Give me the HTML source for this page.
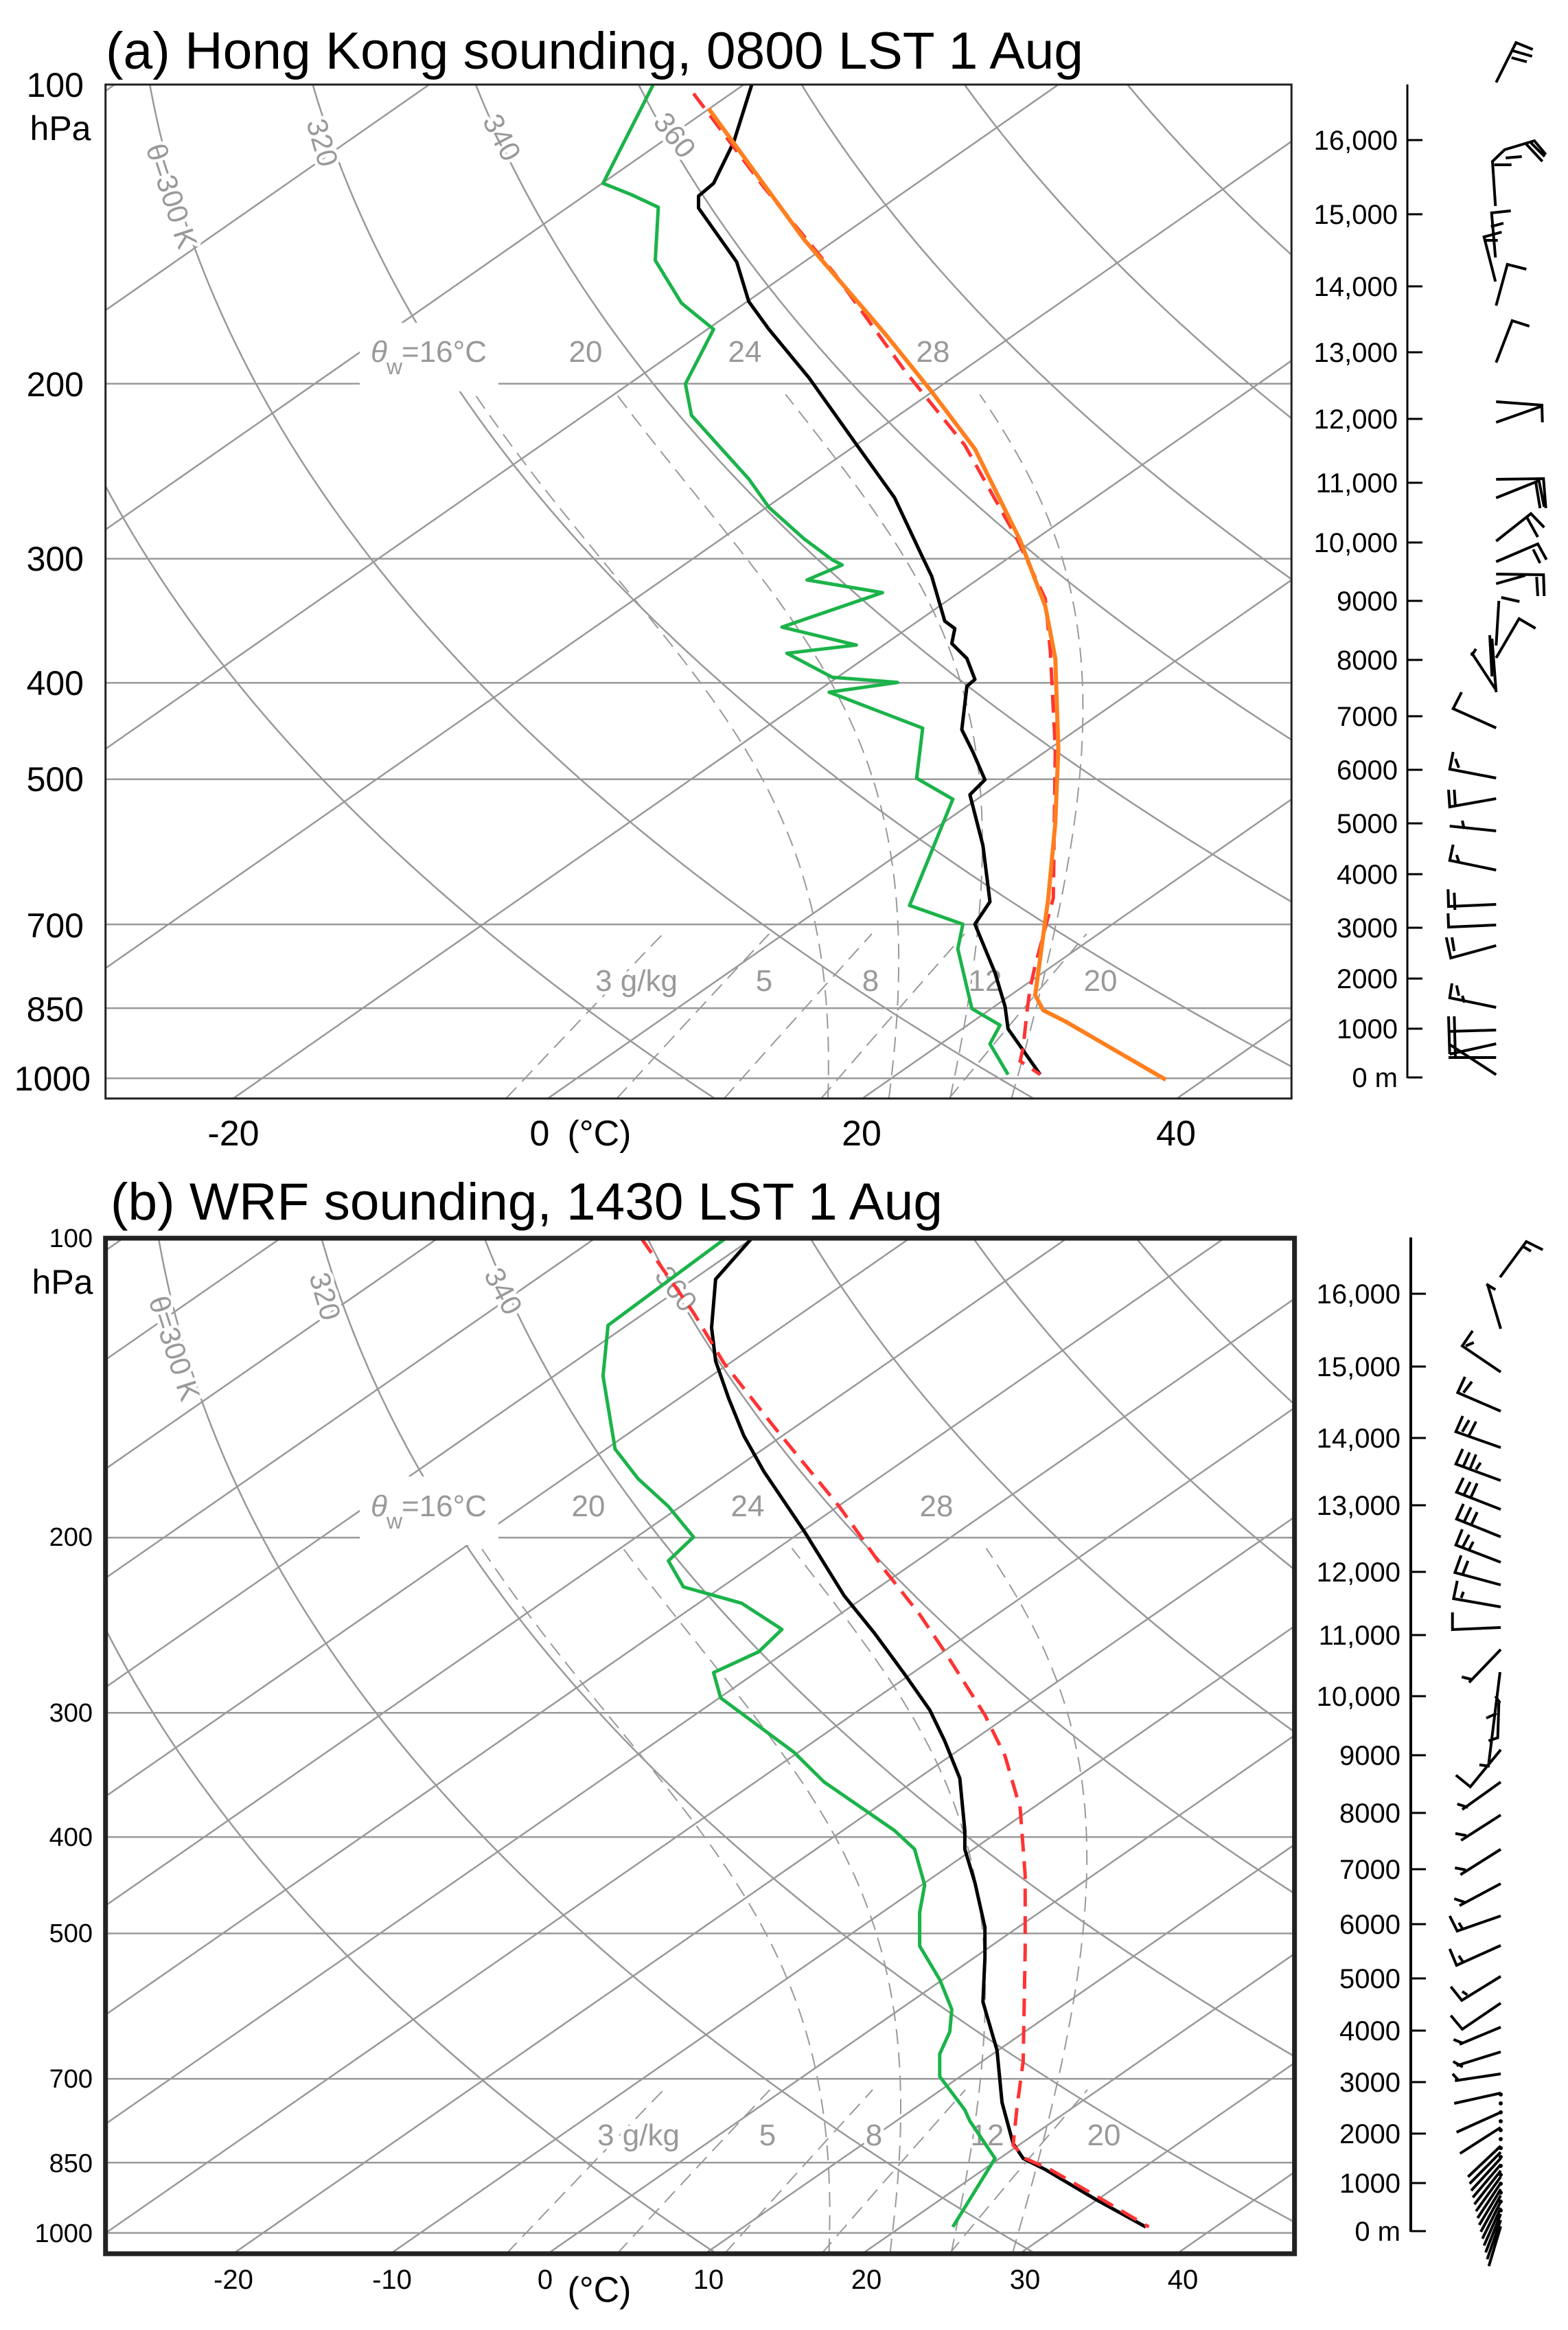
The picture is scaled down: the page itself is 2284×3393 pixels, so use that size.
<!DOCTYPE html>
<html><head><meta charset="utf-8">
<style>
html,body{margin:0;padding:0;background:#fff;}
svg{display:block;}
text{font-family:"Liberation Sans",Arial,sans-serif;}
.g{fill:#999;paint-order:stroke;stroke:#fff;stroke-width:10px;stroke-linejoin:round;}
</style></head>
<body>
<svg id="s" xmlns="http://www.w3.org/2000/svg" width="2284" height="3393" viewBox="0 0 2284 3393">
<defs>
<clipPath id="ca"><rect x="154" y="123" width="1727" height="1477"/></clipPath>
<clipPath id="cb"><rect x="154" y="1803" width="1732" height="1479"/></clipPath>
</defs>
<g id="grid"></g>
<g id="labs">
<!-- Panel A gray labels -->
<text class="g" font-size="42" transform="translate(212,215) rotate(72)">θ=300 K</text>
<text class="g" font-size="42" transform="translate(446,178) rotate(74)">320</text>
<text class="g" font-size="42" transform="translate(702,176) rotate(62)">340</text>
<text class="g" font-size="42" transform="translate(950,178) rotate(52)">360</text>
<rect x="524" y="470" width="202" height="100" fill="#fff"/>
<text class="g" font-size="44" x="540" y="527" font-style="italic">θ</text><text class="g" font-size="32" x="563" y="545">w</text><text class="g" font-size="44" x="585" y="527">=16°C</text>
<text class="g" font-size="44" x="853" y="527" text-anchor="middle">20</text>
<text class="g" font-size="44" x="1085" y="527" text-anchor="middle">24</text>
<text class="g" font-size="44" x="1359" y="527" text-anchor="middle">28</text>
<text class="g" font-size="44" x="927" y="1443" text-anchor="middle">3 g/kg</text>
<text class="g" font-size="44" x="1113" y="1443" text-anchor="middle">5</text>
<text class="g" font-size="44" x="1268" y="1443" text-anchor="middle">8</text>
<text class="g" font-size="44" x="1435" y="1443" text-anchor="middle">12</text>
<text class="g" font-size="44" x="1603" y="1443" text-anchor="middle">20</text>
<!-- Panel B gray labels -->
<text class="g" font-size="42" transform="translate(216,1893) rotate(72)">θ=300 K</text>
<text class="g" font-size="42" transform="translate(450,1858) rotate(74)">320</text>
<text class="g" font-size="42" transform="translate(704,1856) rotate(62)">340</text>
<text class="g" font-size="42" transform="translate(952,1858) rotate(52)">360</text>
<rect x="524" y="2150" width="202" height="100" fill="#fff"/>
<text class="g" font-size="44" x="540" y="2208" font-style="italic">θ</text><text class="g" font-size="32" x="563" y="2226">w</text><text class="g" font-size="44" x="585" y="2208">=16°C</text>
<text class="g" font-size="44" x="857" y="2208" text-anchor="middle">20</text>
<text class="g" font-size="44" x="1089" y="2208" text-anchor="middle">24</text>
<text class="g" font-size="44" x="1364" y="2208" text-anchor="middle">28</text>
<text class="g" font-size="44" x="930" y="3124" text-anchor="middle">3 g/kg</text>
<text class="g" font-size="44" x="1118" y="3124" text-anchor="middle">5</text>
<text class="g" font-size="44" x="1273" y="3124" text-anchor="middle">8</text>
<text class="g" font-size="44" x="1438" y="3124" text-anchor="middle">12</text>
<text class="g" font-size="44" x="1608" y="3124" text-anchor="middle">20</text>
</g>
<g id="data"></g>
<g id="frames"></g>
<g font-size="50" fill="#000">
<text x="154" y="100" font-size="76" textLength="1424" lengthAdjust="spacingAndGlyphs">(a) Hong Kong sounding, 0800 LST 1 Aug</text>
<text x="161" y="1776" font-size="76" textLength="1212" lengthAdjust="spacingAndGlyphs">(b) WRF sounding, 1430 LST 1 Aug</text>
<g text-anchor="end">
<text x="122" y="141">100</text>
<text x="122" y="577">200</text>
<text x="122" y="831">300</text>
<text x="122" y="1012">400</text>
<text x="122" y="1152">500</text>
<text x="122" y="1365">700</text>
<text x="122" y="1487">850</text>
<text x="132" y="1588">1000</text>
</g>
<text x="88" y="204" text-anchor="middle">hPa</text>
<g text-anchor="middle" font-size="52">
<text x="340" y="1668">-20</text>
<text x="786" y="1668">0</text>
<text x="873" y="1668">(°C)</text>
<text x="1255" y="1668">20</text>
<text x="1713" y="1668">40</text>
</g>
<g text-anchor="end" font-size="38">
<text x="135" y="1816">100</text>
<text x="135" y="2251">200</text>
<text x="135" y="2507">300</text>
<text x="135" y="2688">400</text>
<text x="135" y="2828">500</text>
<text x="135" y="3040">700</text>
<text x="135" y="3163">850</text>
<text x="135" y="3265">1000</text>
</g>
<text x="91" y="1884" text-anchor="middle">hPa</text>
<g text-anchor="middle" font-size="40">
<text x="340" y="3333">-20</text>
<text x="571" y="3333">-10</text>
<text x="794" y="3333">0</text>
<text x="1032" y="3333">10</text>
<text x="1262" y="3333">20</text>
<text x="1493" y="3333">30</text>
<text x="1723" y="3333">40</text>
</g>
<text x="873" y="3352" text-anchor="middle" font-size="52">(°C)</text>
<g text-anchor="end" font-size="40" id="hA">
<text x="2036" y="218">16,000</text><text x="2036" y="326">15,000</text><text x="2036" y="431">14,000</text>
<text x="2036" y="527">13,000</text><text x="2036" y="624">12,000</text><text x="2036" y="717">11,000</text>
<text x="2036" y="804">10,000</text><text x="2036" y="889">9000</text><text x="2036" y="975">8000</text>
<text x="2036" y="1057">7000</text><text x="2036" y="1135">6000</text><text x="2036" y="1213">5000</text>
<text x="2036" y="1287">4000</text><text x="2036" y="1365">3000</text><text x="2036" y="1439">2000</text>
<text x="2036" y="1512">1000</text><text x="2036" y="1583">0 m</text>
</g>
<g text-anchor="end" font-size="40">
<text x="2040" y="1898">16,000</text><text x="2040" y="2004">15,000</text><text x="2040" y="2108">14,000</text>
<text x="2040" y="2206">13,000</text><text x="2040" y="2303">12,000</text><text x="2040" y="2395">11,000</text>
<text x="2040" y="2484">10,000</text><text x="2040" y="2570">9000</text><text x="2040" y="2654">8000</text>
<text x="2040" y="2736">7000</text><text x="2040" y="2816">6000</text><text x="2040" y="2895">5000</text>
<text x="2040" y="2971">4000</text><text x="2040" y="3046">3000</text><text x="2040" y="3121">2000</text>
<text x="2040" y="3193">1000</text><text x="2040" y="3263">0 m</text>
</g>
</g>
<g id="barbs" stroke="#000" stroke-width="4" fill="none" stroke-linecap="butt"></g>
</svg>
<script>
(function(){
var NS="http://www.w3.org/2000/svg";
function el(parent,tag,a){var e=document.createElementNS(NS,tag);for(var k in a)e.setAttribute(k,a[k]);parent.appendChild(e);return e;}
var grid=document.getElementById('grid'),data=document.getElementById('data'),frames=document.getElementById('frames'),barbs=document.getElementById('barbs');
var P=[
 {sx:1.464,sy:1.0897,oy:0,yb:1441,K:576.7,ybot:1468,ytop:113,xl:105,xr:1285,step:20,bw:3,clip:'ca'},
 {sx:1.464,sy:1.085,oy:1700,yb:1430,K:579.8,ybot:1458,ytop:95,xl:105,xr:1288,step:10,bw:7,clip:'cb'}
];
P.forEach(function(c,idx){
 function X(x){return x*c.sx;} function Y(y){return y*c.sy+c.oy;}
 function yP(p){return c.yb-c.K*Math.log(1000/p);}
 function pY(y){return 1000*Math.exp(-(c.yb-y)/c.K);}
 function xT(T,y){return 545+15.65*T+(c.ybot-y)*1.068;}
 var g=el(grid,'g',{'clip-path':'url(#'+c.clip+')',fill:'none',stroke:'#999','stroke-width':2.5});
 function poly(parent,pts,attr){var d=pts.map(function(p,i){return (i?'L':'M')+X(p[0]).toFixed(1)+','+Y(p[1]).toFixed(1);}).join('');var a={d:d};for(var k in attr)a[k]=attr[k];return el(parent,'path',a);}
 // pressure lines
 [200,300,400,500,700,850,1000].forEach(function(p){poly(g,[[c.xl,yP(p)],[c.xr,yP(p)]],{});});
 // isotherms
 for(var T=-160;T<=60;T+=c.step){poly(g,[[xT(T,c.ybot),c.ybot],[xT(T,c.ytop),c.ytop]],{});}
 // dry adiabats
 for(var th=280;th<=500;th+=20){var pts=[];for(var y=c.ybot;y>=c.ytop-1;y-=6){var p=pY(y);var T=th*Math.pow(p/1000,0.2857)-273.15;pts.push([xT(T,y),y]);}poly(g,pts,{});}
 // moist adiabats
 var Rd=287,cp=1004,Lv=2.5e6,eps=0.622;
 function es(Tc){return 6.112*Math.exp(17.67*Tc/(Tc+243.5));}
 function dTdp(T,p){var e=es(T-273.15);var rs=eps*e/(p-e);return (Rd*T+Lv*rs)/(p*(cp+Lv*Lv*rs*eps/(Rd*T*T)));}
 [16,20,24,28].forEach(function(tw){
  var pts=[];var T=tw+273.15,p=1000;var pb=pY(c.ybot);
  // down to bottom
  var Tb=T,pp=1000;while(pp<pb){Tb+=dTdp(Tb,pp)*1;pp+=1;}
  var arr=[[xT(Tb-273.15,c.ybot),c.ybot]];
  T=tw+273.15;p=1000;arr.push([xT(T-273.15,yP(1000)),yP(1000)]);
  while(p>205){T-=dTdp(T,p)*1;p-=1;if(p%5==0)arr.push([xT(T-273.15,yP(p)),yP(p)]);}
  poly(g,arr,{'stroke-dasharray':'22 12','stroke-width':2});
 });
 // mixing ratio
 [3,5,8,12,20].forEach(function(w){
  var arr=[];for(var y=c.ybot;y>=yP(712);y-=5){var p=pY(y);var e=w*p/(622+w);var l=Math.log(e/6.112);var Td=243.5*l/(17.67-l);arr.push([xT(Td,y),y]);}
  poly(g,arr,{'stroke-dasharray':'22 12','stroke-width':2});
 });
 // data
 var D=data;
 if(idx==0){
  poly(D,[[650,113],[600,245],[628,260],[655,277],[652,348],[678,405],[710,440],[682,513],[688,555],[718,600],[745,640],[765,678],[800,720],[828,748],[838,755],[803,775],[878,792],[778,838],[852,862],[783,873],[828,905],[893,912],[825,925],[918,973],[912,1040],[948,1068],[905,1210],[958,1235],[953,1268],[967,1348],[995,1370],[985,1395],[1003,1436]],{fill:'none',stroke:'#1bb34a','stroke-width':5,'stroke-linejoin':'round'});
  poly(D,[[748,113],[730,190],[710,245],[695,262],[695,278],[733,350],[745,403],[765,440],[805,505],[850,590],[890,665],[918,745],[927,770],[940,830],[950,840],[947,860],[962,880],[970,908],[962,917],[957,975],[968,1005],[980,1042],[965,1062],[978,1130],[985,1205],[970,1235],[990,1300],[1000,1345],[1003,1375],[1035,1436]],{fill:'none',stroke:'#000','stroke-width':5,'stroke-linejoin':'round'});
  poly(D,[[690,125],[760,250],[830,365],[900,495],[960,595],[1010,715],[1040,800],[1045,870],[1050,1000],[1048,1200],[1030,1290],[1025,1320],[1022,1350],[1018,1400],[1015,1418],[1035,1436]],{fill:'none',stroke:'#ff3333','stroke-width':5,'stroke-dasharray':'26 14'});
  poly(D,[[705,145],[800,320],[880,445],[925,520],[970,600],[1015,722],[1040,810],[1050,880],[1053,1000],[1050,1100],[1043,1200],[1035,1280],[1030,1330],[1038,1350],[1060,1365],[1160,1443]],{fill:'none',stroke:'#ff7f1e','stroke-width':6,'stroke-linejoin':'round'});
 } else {
  poly(D,[[722,95],[605,212],[600,280],[612,378],[635,418],[665,455],[690,496],[665,528],[680,563],[738,585],[778,620],[755,650],[710,678],[717,712],[745,740],[790,785],[820,825],[860,862],[890,890],[910,915],[920,963],[915,1000],[915,1045],[935,1090],[947,1130],[945,1160],[935,1190],[935,1220],[960,1265],[965,1280],[990,1330],[948,1422]],{fill:'none',stroke:'#1bb34a','stroke-width':5,'stroke-linejoin':'round'});
  poly(D,[[748,95],[712,150],[708,215],[712,260],[725,310],[740,360],[760,408],[800,488],[840,575],[870,625],[900,680],[925,728],[940,770],[955,820],[960,890],[960,915],[970,960],[980,1020],[980,1060],[978,1120],[992,1185],[997,1255],[1008,1310],[1018,1330],[1040,1345],[1090,1385],[1140,1422]],{fill:'none',stroke:'#000','stroke-width':5,'stroke-linejoin':'round'});
  poly(D,[[638,95],[690,195],[720,262],[770,348],[835,455],[880,540],[915,600],[940,650],[980,735],[1000,790],[1015,860],[1020,950],[1020,1050],[1018,1200],[1012,1260],[1008,1312],[1020,1330],[1045,1345],[1090,1380],[1143,1422]],{fill:'none',stroke:'#ff3333','stroke-width':5,'stroke-dasharray':'26 14'});
 }
 // frame
 el(frames,'rect',{x:X(c.xl),y:Y(c.ytop),width:X(c.xr)-X(c.xl),height:Y(c.ybot)-Y(c.ytop),fill:'none',stroke:'#222','stroke-width':c.bw});
});
// height axes
function line(x1,y1,x2,y2,w){el(frames,'line',{x1:x1,y1:y1,x2:x2,y2:y2,stroke:'#000','stroke-width':w});}
line(2050,123,2050,1570,3);
[204,312,417,513,610,703,790,875,961,1043,1121,1199,1273,1351,1425,1498,1569].forEach(function(y){line(2050,y,2072,y,3);});
line(2055,1802,2055,3250,4);
[1884,1990,2094,2192,2289,2381,2470,2556,2640,2722,2802,2881,2957,3032,3107,3179,3249].forEach(function(y){line(2055,y,2077,y,3);});
// barbs
function bp(d,ox,oy){var s=d.replace(/(-?\d+(?:\.\d+)?),(-?\d+(?:\.\d+)?)/g,function(m,a,b){return (ox+parseFloat(a)/3).toFixed(1)+','+(oy+parseFloat(b)).toFixed(1);});el(barbs,'path',{d:s});}
var A="M388,80 L475,22 L548,32 M462,34 L545,42 M455,44 L522,50 M385,260 L372,195 L425,178 L555,165 L605,185 M520,170 L590,195 M540,168 L600,188 M380,200 L455,200 M430,190 L500,188 M385,335 L368,270 L452,267 M365,290 L420,285 M385,370 L335,305 L412,298 M340,310 L395,310 M388,405 L437,345 L520,352 M388,488 L458,427 L533,435 M388,575 L592,551 M388,545 L588,550 L590,575 M388,658 L595,657 L605,700 M388,685 L575,660 L598,698 M560,660 L580,700 M388,748 L540,708 L598,728 M520,712 L570,742 M388,778 L570,752 L608,775 M550,760 L580,780 M388,796 L595,797 L598,828 M388,810 L515,798 M565,800 L570,828 M410,830 L490,836 M400,835 L388,900 M388,918 L488,861 L560,875 M388,965 L280,910 M300,905 L280,915 M370,890 L388,968 M360,885 L370,945 M388,1020 L200,992 L237,968 M388,1093 L185,1080 L200,1055 M210,1065 L225,1078 M388,1123 L185,1135 L180,1110 M205,1110 L210,1135 M240,1155 L248,1167 M388,1170 L185,1163 M388,1227 L185,1213 L200,1190 M215,1205 L225,1215 M388,1277 L180,1280 L178,1255 M205,1260 L208,1285 M388,1307 L180,1310 L178,1290 M388,1337 L190,1355 L170,1325 M195,1325 L205,1345 M388,1427 L185,1413 L195,1392 M215,1395 L225,1410 M240,1410 L250,1420 M388,1460 L180,1462 M388,1480 L185,1495 M388,1500 L180,1500 M388,1525 L180,1480 M180,1440 L185,1495 M205,1440 L210,1500";
bp(A,2050,40);
var B="M408,155 L350,90 M345,90 L385,98 M405,80 L520,28 L592,40 M505,35 L540,42 M408,218 L240,180 L285,158 M255,180 L290,175 M408,275 L220,248 L252,225 M245,248 L282,232 M408,328 L212,305 L242,282 M240,305 L270,288 M270,310 L300,290 M408,376 L212,352 L242,330 M245,355 L272,335 M275,358 L300,338 M300,360 L320,350 M408,418 L215,393 L245,372 M245,398 L275,378 M278,400 L305,380 M408,458 L215,432 L245,410 M248,436 L278,415 M280,440 L305,422 M408,495 L212,470 L240,447 M240,474 L270,455 M268,478 L288,465 M408,528 L208,510 L235,485 M240,514 L265,493 M408,560 L202,548 L218,522 M235,547 L245,538 M408,590 L197,593 L197,568 M408,622 L270,670 M238,662 L285,666 M405,655 L355,790 M345,722 L390,715 M355,755 L400,750 M385,690 L405,700 M400,700 L395,750 M408,768 L275,822 L212,805 M315,790 L360,792 M408,815 L240,855 M218,847 L265,852 M408,863 L235,900 M210,890 L258,893 M408,913 L232,950 M208,940 L255,943 M408,963 L228,995 M205,985 L250,990 M408,1010 L218,1032 L185,1010 M225,1020 L240,1028 M408,1053 L215,1082 L185,1058 M225,1068 L245,1078 M408,1098 L238,1133 L190,1113 M240,1120 L262,1125 M408,1137 L240,1175 L190,1155 M408,1172 L228,1197 M202,1190 L240,1195 M408,1208 L215,1228 M200,1222 L242,1230 M408,1240 L208,1250 M198,1240 L225,1250 M408,1268 L205,1283 M408,1296 L215,1325 M408,1318 L230,1356";
for(var i=0;i<14;i++){B+=" M408,"+(1345+i*9)+" L"+(265+i*7)+","+(1390+i*10);}
bp(B,2050,1780);
for(var j=0;j<14;j++){el(barbs,'ellipse',{cx:2186,cy:1780+1270+j*13,rx:3,ry:3,fill:'#000',stroke:'none'});}
})();
</script>
</body></html>
